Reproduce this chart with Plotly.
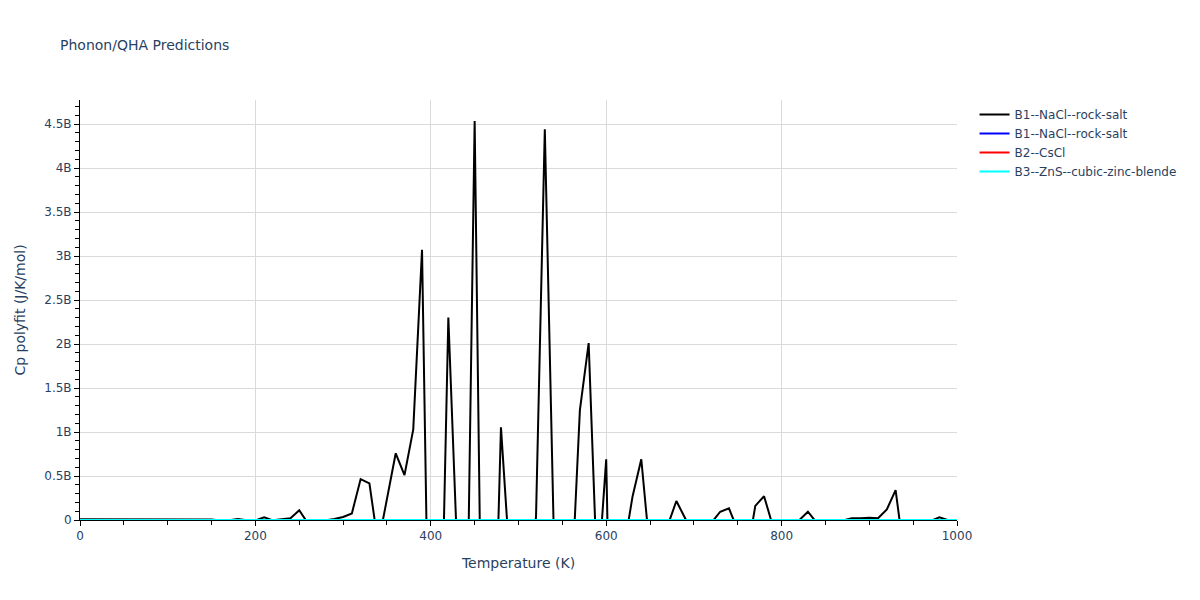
import plotly.graph_objects as go

temperature = [0, 10, 20, 30, 40, 50, 60, 70, 80, 90,
               100, 110, 120, 130, 140, 150, 160, 170, 180, 190,
               200, 210, 220, 230, 240, 250, 260, 270, 280, 290,
               300, 310, 320, 330, 340, 350, 360, 370, 380, 390,
               400, 410, 420, 430, 440, 450, 460, 470, 480, 490,
               500, 510, 520, 530, 540, 550, 560, 570, 580, 590,
               600, 610, 620, 630, 640, 650, 660, 670, 680, 690,
               700, 710, 720, 730, 740, 750, 760, 770, 780, 790,
               800, 810, 820, 830, 840, 850, 860, 870, 880, 890,
               900, 910, 920, 930, 940, 950, 960, 970, 980, 990, 1000]

# Cp polyfit of B1--NaCl--rock-salt (first series), in billions of J/K/mol
cp_b1_a_billions = [0.008, 0.008, 0.008, 0.008, 0.008, 0.008, 0.008, 0.008, 0.008, 0.008,
                    0.008, 0.008, 0.008, 0.008, 0.008, 0.006, -0.005, -0.002, 0.012, -0.004,
                    -0.005, 0.03, -0.004, 0.006, 0.02, 0.11, -0.04, -0.02, -0.005, 0.012,
                    0.035, 0.075, 0.465, 0.417, -0.28, 0.22, 0.758, 0.51, 1.03, 3.07,
                    -3.07, -2.3, 2.30, -0.33, -2.23, 4.534, -3.28, -2.58, 1.053, -0.47,
                    -2.0, -1.5, 0.05, 4.44, -0.05, -1.0, -0.88, 1.25, 2.01, -0.74,
                    0.69, -4.24, -0.34, 0.265, 0.69, -0.37, -0.5, -0.068, 0.216, 0.02,
                    -0.15, -0.1, -0.031, 0.094, 0.133, -0.118, -0.43, 0.16, 0.27, -0.068,
                    -0.2, -0.1, -0.005, 0.094, -0.03, -0.05, -0.03, -0.004, 0.02, 0.02,
                    0.025, 0.02, 0.12, 0.34, -0.42, -0.1, -0.08, -0.01, 0.03, -0.001, -0.05]

cp_b1_b = [0.0] * 101
cp_b2 = [0.0] * 101
cp_b3 = [0.0] * 101

series_names = ["B1--NaCl--rock-salt", "B1--NaCl--rock-salt", "B2--CsCl", "B3--ZnS--cubic-zinc-blende"]
series_colors = ["black", "blue", "red", "cyan"]

y_tick_values = [0, 0.5e9, 1e9, 1.5e9, 2e9, 2.5e9, 3e9, 3.5e9, 4e9, 4.5e9]
y_tick_labels = ["0", "0.5B", "1B", "1.5B", "2B", "2.5B", "3B", "3.5B", "4B", "4.5B"]

cp_b1_a = [v * 1e9 for v in cp_b1_a_billions]
series_values = [cp_b1_a, cp_b1_b, cp_b2, cp_b3]

fig = go.Figure()
for name, color, vals in zip(series_names, series_colors, series_values):
    fig.add_trace(go.Scatter(x=temperature, y=vals, mode="lines", name=name,
                             line=dict(color=color, width=2)))

grid = "#dadada"
fig.update_layout(
    template="plotly_white",
    width=1200, height=600,
    title=dict(text="Phonon/QHA Predictions", x=52 / 1200, xanchor="left",
               y=1 - 37 / 600, yanchor="middle", font=dict(size=14)),
    margin=dict(l=72, r=251, t=92, b=88),
    font=dict(family="DejaVu Sans, Verdana, sans-serif", color="#2a3f5f", size=12),
    plot_bgcolor="white",
    paper_bgcolor="white",
    legend=dict(font=dict(size=12)),
    xaxis=dict(title=dict(text="Temperature (K)", font=dict(size=14)),
               range=[0, 1000], showline=True, linecolor="black", linewidth=1,
               ticks="outside", tickcolor="black", ticklen=5,
               minor=dict(ticks="outside", tickcolor="black", ticklen=4, showgrid=False),
               gridcolor=grid, zeroline=False, dtick=200),
    yaxis=dict(title=dict(text="Cp polyfit (J/K/mol)", font=dict(size=14)),
               range=[0, 4.773e9], showline=True, linecolor="black", linewidth=1,
               ticks="outside", tickcolor="black", ticklen=5,
               minor=dict(ticks="outside", tickcolor="black", ticklen=4, showgrid=False,
                          dtick=0.1e9),
               gridcolor=grid, zeroline=False,
               tickvals=y_tick_values, ticktext=y_tick_labels),
)

fig.write_html("out.html")
